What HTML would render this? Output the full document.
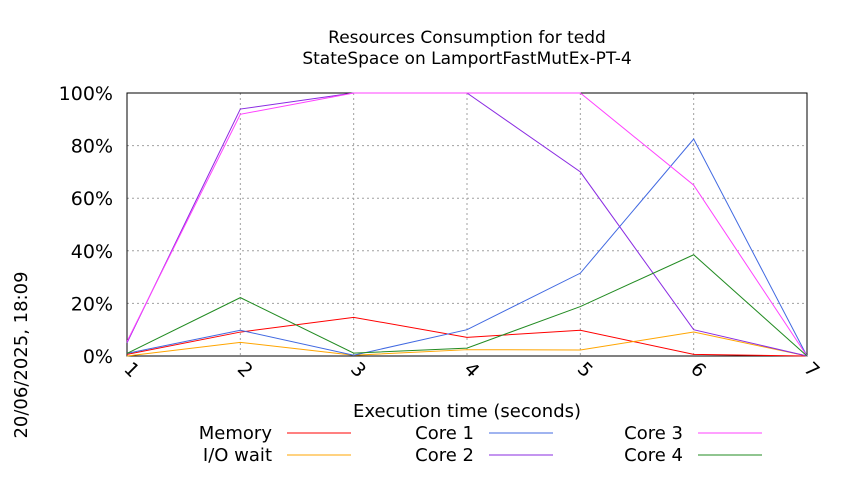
<!DOCTYPE html>
<html><head><meta charset="utf-8"><style>
body{margin:0;background:#fff;}
svg text{font-family:"DejaVu Sans","Liberation Sans",sans-serif;fill:#000;}
</style></head><body>
<svg id="chart" width="850" height="475" xmlns="http://www.w3.org/2000/svg">
<rect width="850" height="475" fill="#fff"/>
<text x="467" y="43" font-size="17" text-anchor="middle">Resources Consumption for tedd</text>
<text x="467" y="64" font-size="17" text-anchor="middle">StateSpace on LamportFastMutEx-PT-4</text>
<text transform="translate(27,355) rotate(-90)" font-size="18" text-anchor="middle">20/06/2025, 18:09</text>
<text x="467" y="417" font-size="18" text-anchor="middle">Execution time (seconds)</text>
<g id="grid"></g><g id="axes"></g><g id="series"></g><g id="legend"></g>
</svg>
<script>
const xTicks=[1,2,3,4,5,6,7];
const yTicks=[0,20,40,60,80,100];
const seriesNames=["Memory","I/O wait","Core 1","Core 2","Core 3","Core 4"];
const seriesColors=["#ff0000","#ffa500","#4169e1","#8a2be2","#ff40ff","#228b22"];
const memory=[0.6,9.1,14.7,7.1,9.8,0.6,0];
const ioWait=[0,5.2,0.3,2.4,2.3,9.1,0];
const core1=[1,9.8,0.3,10,31.5,82.5,0];
const core2=[5,93.9,100,100,70,10,0];
const core3=[5.5,91.9,100,100,100,65,0];
const core4=[1,22.2,1.1,3,18.8,38.5,0];
const allSeries=[memory,ioWait,core1,core2,core3,core4];
const L=127,R=807,T=93,B=356;
const xs=v=>L+(v-1)/(7-1)*(R-L);
const ys=v=>B-v/100*(B-T);
const NS="http://www.w3.org/2000/svg";
function mk(tag,attrs,parent){const e=document.createElementNS(NS,tag);for(const k in attrs)e.setAttribute(k,attrs[k]);parent.appendChild(e);return e;}
const grid=document.getElementById('grid'),axes=document.getElementById('axes'),ser=document.getElementById('series'),leg=document.getElementById('legend');
yTicks.forEach(t=>{
  const y=ys(t);
  const g=mk('line',{x1:L,x2:R,y1:y,y2:y,stroke:'#a0a0a0','stroke-dasharray':'2,3','stroke-width':1},grid);
  
  
  const tx=mk('text',{x:L-14,y:y+7,'font-size':19,'text-anchor':'end'},axes);
  tx.textContent=t+'%';
  
  
});
xTicks.forEach(t=>{
  const x=xs(t);
  const g=mk('line',{x1:x,x2:x,y1:T,y2:B,stroke:'#a0a0a0','stroke-dasharray':'2,3','stroke-width':1},grid);
  
  
  const tx=mk('text',{transform:`translate(${x-4},${B+14}) rotate(45)`,'font-size':19},axes);
  tx.textContent=t;
  
  
});
const frame=mk('rect',{x:L,y:T,width:R-L,height:B-T,fill:'none',stroke:'#000','stroke-width':1},axes);


allSeries.forEach((s,i)=>{
  const p=mk('polyline',{points:s.map((v,j)=>xs(xTicks[j])+','+ys(v)).join(' '),fill:'none',stroke:seriesColors[i],'stroke-width':1},ser);
  
  
});
const legX=[272,474,683],legY=[439,461];
const order=[[0,2,4],[1,3,5]];
order.forEach((row,r)=>row.forEach((si,c)=>{
  const g=mk('g',{},leg);
  
  
  const t=mk('text',{x:legX[c],y:legY[r],'font-size':18,'text-anchor':'end'},g);
  t.textContent=seriesNames[si];
  mk('line',{x1:legX[c]+15,x2:legX[c]+79,y1:legY[r]-6,y2:legY[r]-6,stroke:seriesColors[si],'stroke-width':1},g);
}));
</script>
</body></html>
